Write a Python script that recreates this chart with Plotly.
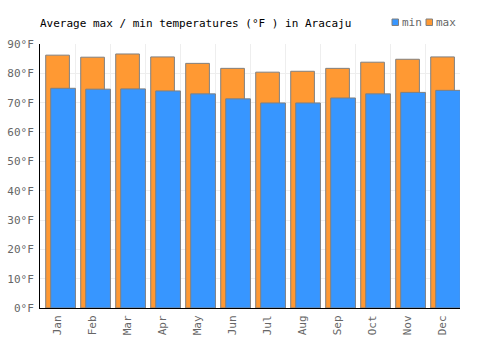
import plotly.graph_objects as go

months = ["Jan", "Feb", "Mar", "Apr", "May", "Jun", "Jul", "Aug", "Sep", "Oct", "Nov", "Dec"]
max_f = [86.2, 85.5, 86.6, 85.6, 83.4, 81.7, 80.4, 80.7, 81.7, 83.8, 84.8, 85.6]
min_f = [74.9, 74.6, 74.7, 74.0, 73.0, 71.3, 69.9, 69.9, 71.6, 73.0, 73.5, 74.2]

FONT = "DejaVu Sans Mono"
BLUE = "#3796FF"
ORANGE = "#FF9933"
EDGE = "#808080"

fig = go.Figure()
fig.add_trace(go.Bar(x=months, y=max_f, name="max", marker=dict(color=ORANGE, line=dict(color=EDGE, width=1)),
                     offset=-0.337, width=0.677, showlegend=False))
fig.add_trace(go.Bar(x=months, y=min_f, name="min", marker=dict(color=BLUE, line=dict(color=EDGE, width=1)),
                     offset=-0.194, width=0.706, showlegend=False))

L, R, T, B = 40, 40, 44, 42
W, H = 500, 350
pw, ph = W - L - R, H - T - B

def px_x(x):
    return (x - L) / pw

def px_y(y):
    return (H - B - y) / ph

shapes = []
annotations = []
for label, color, x0 in [("min", BLUE, 392), ("max", ORANGE, 426)]:
    shapes.append(dict(type="rect", xref="paper", yref="paper", x0=px_x(x0), x1=px_x(x0 + 6.5),
                       y0=px_y(25.5), y1=px_y(19), fillcolor=color, line=dict(color=EDGE, width=1)))
    annotations.append(dict(text=label, xref="paper", yref="paper", x=px_x(x0 + 8), y=px_y(23),
                            xanchor="left", yanchor="middle", showarrow=False,
                            font=dict(family=FONT, size=11, color="#666666")))

fig.update_layout(
    width=W, height=H,
    margin=dict(l=L, r=R, t=T, b=B, autoexpand=False),
    paper_bgcolor="white", plot_bgcolor="white",
    barmode="overlay",
    title=dict(text="Average max / min temperatures (°F ) in Aracaju", x=L / W, xanchor="left",
               y=1 - 23 / H, yanchor="middle", yref="container",
               font=dict(family=FONT, size=11, color="black")),
    font=dict(family=FONT, size=11, color="#666666"),
    shapes=shapes, annotations=annotations,
    xaxis=dict(type="category", tickangle=-90, tickson="boundaries", showgrid=True, gridcolor="#eeeeee",
               showline=True, linecolor="black", linewidth=1, ticks="", range=[-0.5, 11.5],
               automargin=False, ticklabelstandoff=2,
               tickfont=dict(family=FONT, size=11, color="#666666")),
    yaxis=dict(range=[0, 90], dtick=10, ticksuffix="°F", showgrid=True, gridcolor="#eeeeee",
               showline=True, linecolor="black", linewidth=1, ticks="", zeroline=False,
               automargin=False, ticklabelstandoff=3,
               tickfont=dict(family=FONT, size=11, color="#666666")),
)

fig.write_html("out.html")
